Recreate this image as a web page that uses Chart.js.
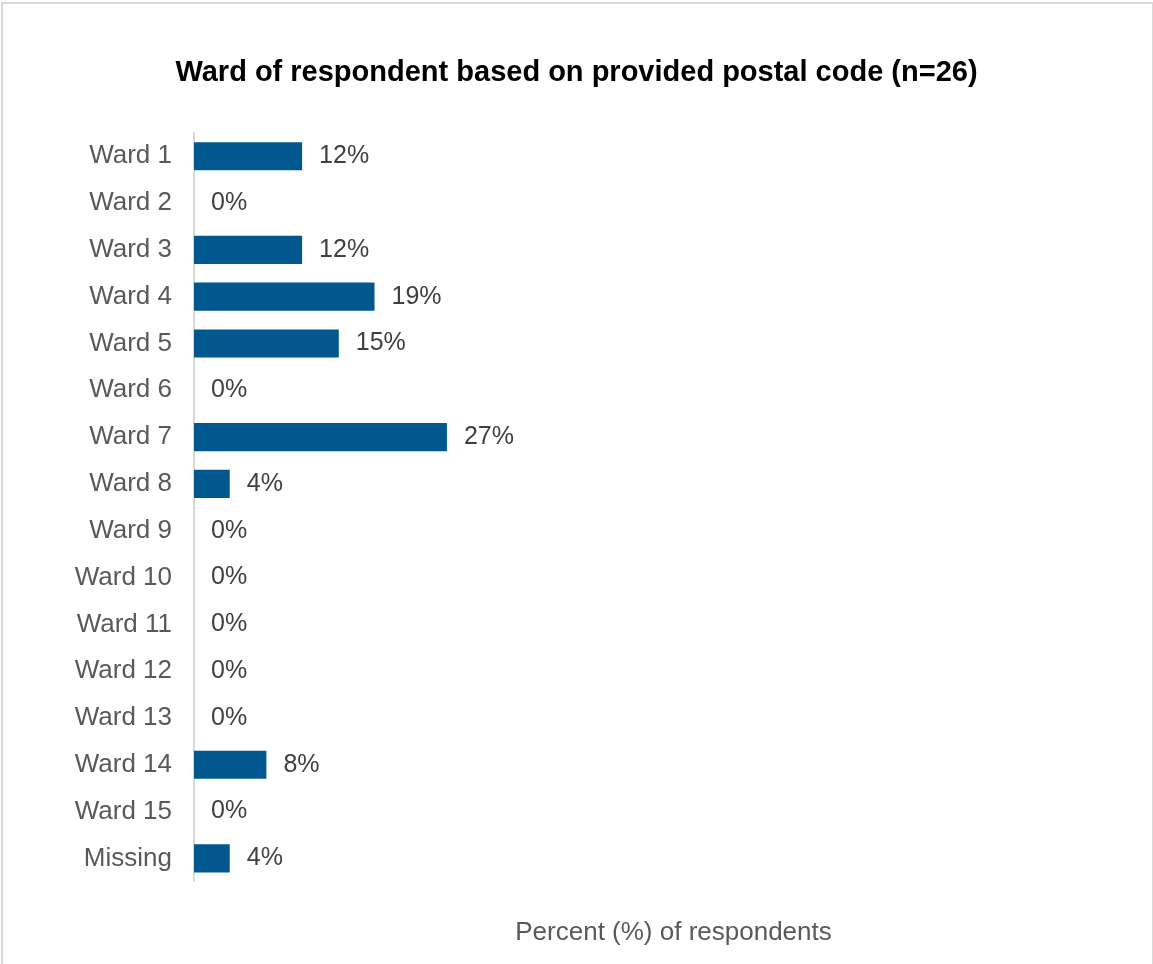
<!DOCTYPE html>
<html>
<head>
<meta charset="utf-8">
<script src="https://cdn.jsdelivr.net/npm/chart.js@4/dist/chart.umd.min.js"></script>
<style>
  html, body { margin: 0; padding: 0; background: #fff; }
  body { width: 1153px; height: 964px; position: relative; overflow: hidden; }
  .frame {
    position: absolute; left: 1px; top: 2px; width: 1149px; height: 1000px;
    border: 2px solid #d9d9d9;
  }
  .chart-box { position: absolute; left: 0; top: 0; width: 1153px; height: 964px; }
</style>
</head>
<body>
<div class="frame"></div>
<div class="chart-box"><canvas id="ward-chart"></canvas></div>
<script>
const wards = ['Ward 1', 'Ward 2', 'Ward 3', 'Ward 4', 'Ward 5', 'Ward 6', 'Ward 7', 'Ward 8',
  'Ward 9', 'Ward 10', 'Ward 11', 'Ward 12', 'Ward 13', 'Ward 14', 'Ward 15', 'Missing'];
// percent of respondents (n=26)
const percents = [11.5, 0, 11.5, 19.2, 15.4, 0, 26.9, 3.8, 0, 0, 0, 0, 0, 7.7, 0, 3.8];

const titleText = 'Ward of respondent based on provided postal code (n=26)';
const axisTitle = 'Percent (%) of respondents';
const fontName = "'Liberation Sans', Arial, sans-serif";

// draws the "12%" style labels at the end of each bar
const barLabels = {
  id: 'barLabels',
  afterDatasetsDraw(chart) {
    const ctx = chart.ctx;
    const meta = chart.getDatasetMeta(0);
    ctx.save();
    ctx.font = '25px ' + fontName;
    ctx.fillStyle = '#404040';
    ctx.textAlign = 'left';
    ctx.textBaseline = 'middle';
    meta.data.forEach((bar, i) => {
      const v = chart.data.datasets[0].data[i];
      ctx.fillText(Math.round(v) + '%', bar.x + 17, bar.y);
    });
    ctx.restore();
  }
};

new Chart(document.getElementById('ward-chart'), {
  type: 'bar',
  data: {
    labels: wards,
    datasets: [{
      data: percents,
      backgroundColor: '#00588F',
      barPercentage: 0.6,
      categoryPercentage: 1
    }]
  },
  options: {
    indexAxis: 'y',
    responsive: true,
    maintainAspectRatio: false,
    animation: false,
    layout: { padding: { left: 0, right: 0, top: 1, bottom: 12 } },
    plugins: {
      legend: { display: false },
      tooltip: { enabled: false },
      title: {
        display: true,
        text: titleText,
        color: '#000',
        font: { family: fontName, size: 29, weight: 'bold' },
        padding: { top: 55, bottom: 42 }
      }
    },
    scales: {
      x: {
        min: 0,
        max: 102,
        grid: { display: false, drawTicks: false },
        border: { display: false },
        ticks: { display: false },
        title: {
          display: true,
          text: axisTitle,
          color: '#595959',
          font: { family: fontName, size: 26 },
          padding: { top: 35, bottom: 4 }
        }
      },
      y: {
        afterFit(scale) { scale.width = 194; },
        grid: { display: false, drawTicks: false },
        border: { display: true, color: '#d9d9d9', width: 2 },
        ticks: {
          color: '#595959',
          padding: 22,
          font: { family: fontName, size: 26 }
        }
      }
    }
  },
  plugins: [barLabels]
});
</script>
</body>
</html>
